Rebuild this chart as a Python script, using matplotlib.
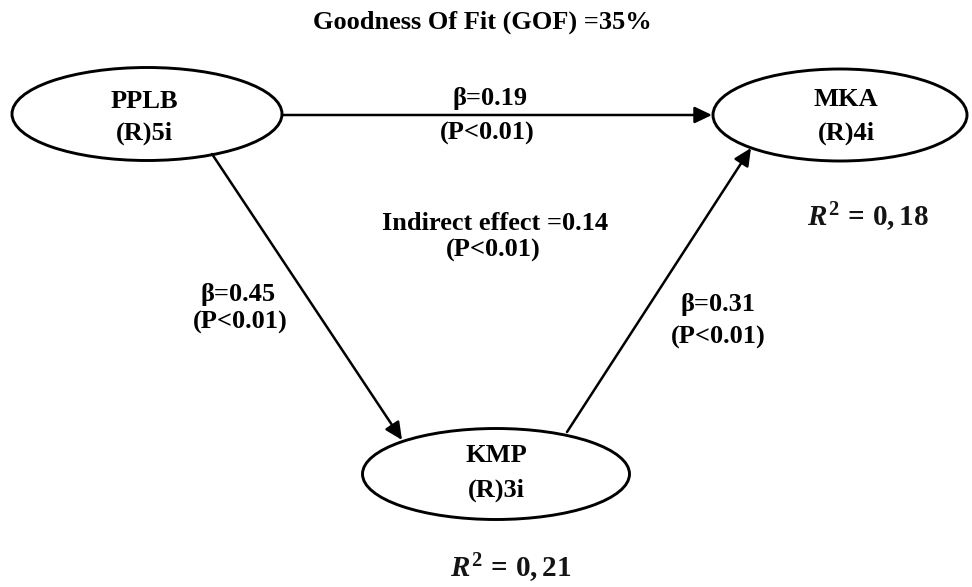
import matplotlib
matplotlib.use("Agg")
import matplotlib.pyplot as plt
from matplotlib.patches import Ellipse

# ---- data ----
node_names = ["PPLB", "MKA", "KMP"]
node_sub = ["(R)5i", "(R)4i", "(R)3i"]
beta_direct = 0.19      # PPLB -> MKA
beta_a = 0.45           # PPLB -> KMP
beta_b = 0.31           # KMP -> MKA
indirect = 0.14
p_label = "(P<0.01)"
r2_mka = "0,18"
r2_kmp = "0,21"
gof = 35

plt.rcParams['mathtext.fontset'] = 'custom'
plt.rcParams['mathtext.it'] = 'Liberation Serif:italic:bold'
plt.rcParams['mathtext.rm'] = 'Liberation Serif:bold'
plt.rcParams['mathtext.bf'] = 'Liberation Serif:bold'

W, H = 972, 587
fig = plt.figure(figsize=(W / 100, H / 100), dpi=100)
ax = fig.add_axes([0, 0, 1, 1])
ax.set_xlim(0, W)
ax.set_ylim(H, 0)
ax.axis('off')

FONT = dict(family='Liberation Serif', weight='bold', color='black')
FS = 19

# node layout
pos = {"PPLB": (147, 114), "MKA": (840, 115), "KMP": (496, 474)}
text_pos = {"PPLB": (144, 101, 133), "MKA": (846, 99, 133), "KMP": (496, 456, 490)}
size = {"PPLB": (270, 93), "MKA": (254, 92), "KMP": (267, 91)}

for name, sub in zip(node_names, node_sub):
    cx, cy = pos[name]
    w, h = size[name]
    ax.add_patch(Ellipse((cx, cy), w, h, fill=False, edgecolor='black', lw=2.1))
    tx, ty1, ty2 = text_pos[name]
    ax.text(tx, ty1, name, ha='center', va='center', fontsize=FS, **FONT)
    ax.text(tx, ty2, sub, ha='center', va='center', fontsize=FS, **FONT)

arrow_kw = dict(arrowstyle='-|>,head_length=1.05,head_width=0.5', color='black',
                lw=1.8, shrinkA=0, shrinkB=0)
# PPLB -> MKA
ax.annotate("", xy=(712, 115), xytext=(282, 115), arrowprops=arrow_kw)
# PPLB -> KMP
ax.annotate("", xy=(402, 440), xytext=(212, 154), arrowprops=arrow_kw)
# KMP -> MKA
ax.annotate("", xy=(751, 148), xytext=(567, 432), arrowprops=arrow_kw)

def lab(x1, y1, x2, y2, top, bottom):
    ax.text(x1, y1, top, ha='center', va='center', fontsize=FS, **FONT)
    ax.text(x2, y2, bottom, ha='center', va='center', fontsize=FS, **FONT)

lab(490, 98, 487, 133, f"β={beta_direct:.2f}", p_label)
lab(495, 224, 493, 250, f"Indirect effect ={indirect:.2f}", p_label)
lab(238, 294, 240, 322, f"β={beta_a:.2f}", p_label)
lab(718, 304, 718, 337, f"β={beta_b:.2f}", p_label)

ax.text(482, 22, f"Goodness Of Fit (GOF) ={gof}%", ha='center', va='center',
        fontsize=FS, **FONT)

ax.text(868, 217, r"$R^2\,=\,$" + f"${r2_mka}$", ha='center', va='center',
        fontsize=21, color='#141414')
ax.text(511, 568, r"$R^2\,=\,$" + f"${r2_kmp}$", ha='center', va='center',
        fontsize=21, color='#141414')

fig.savefig("out.png", dpi=100)
